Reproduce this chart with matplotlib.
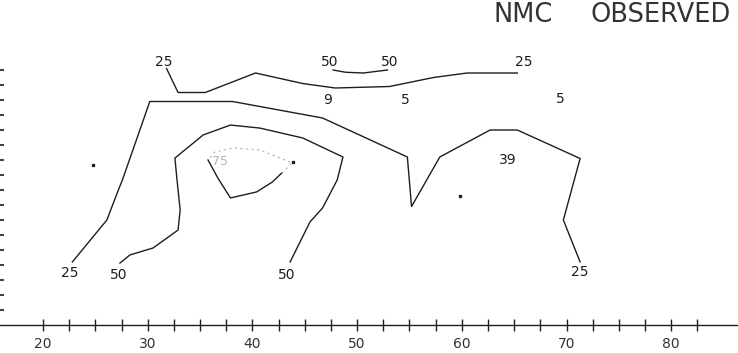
import matplotlib
matplotlib.use("Agg")
import matplotlib.pyplot as plt
import numpy as np

# ---- data (longitude on x, generic units on y) ----
x_ticks_major = [20, 30, 40, 50, 60, 70, 80]
x_ticks_minor = list(np.arange(20, 85, 2.5))
y_ticks_left = list(range(1, 18))

# upper 25 contour
c25a_x = [31.8, 32.9, 35.5, 40.3, 44.8, 47.9, 53.1, 57.3, 60.5, 65.3]
c25a_y = [17.1, 15.5, 15.5, 16.8, 16.1, 15.8, 15.9, 16.5, 16.8, 16.8]
# lower 25 contour
c25b_x = [22.8, 26.1, 27.2, 27.6, 30.2, 38.1, 46.7, 54.8, 55.2, 57.9, 62.7, 65.3, 71.3, 69.7, 71.3]
c25b_y = [4.2, 7.0, 9.0, 9.7, 14.9, 14.9, 13.8, 11.2, 7.9, 11.2, 13.0, 13.0, 11.1, 7.0, 4.2]
# 50 contour
c50_x = [27.35, 28.3, 30.5, 32.9, 33.1, 32.8, 32.6, 35.3, 37.9, 40.7, 44.8, 48.65, 48.1, 46.7, 45.5, 43.6]
c50_y = [4.13, 4.67, 5.13, 6.33, 7.67, 9.67, 11.13, 12.67, 13.33, 13.13, 12.47, 11.2, 9.67, 7.8, 6.87, 4.2]
# small 50 arc at the top
c50b_x = [47.7, 48.9, 50.6, 52.9]
c50b_y = [17.0, 16.85, 16.8, 17.0]
# inner contour (solid lower part, faint upper part)
cin_x = [35.76, 36.7, 37.9, 40.4, 41.9, 42.8]
cin_y = [11.0, 9.8, 8.47, 8.87, 9.53, 10.13]
cin_f_x = [42.8, 43.8, 40.7, 38.15, 36.4, 35.76]
cin_f_y = [10.13, 10.8, 11.67, 11.8, 11.53, 11.0]

# contour labels
lab_text = ["25", "25", "50", "50", "25", "50", "50", "25", "9", "5", "5", "39"]
lab_x = [31.5, 65.9, 47.4, 53.1, 22.6, 27.2, 43.3, 71.3, 47.2, 54.6, 69.4, 64.4]
lab_y = [17.55, 17.55, 17.55, 17.55, 3.45, 3.35, 3.35, 3.5, 15.0, 15.0, 15.07, 11.0]

# isolated dots
dot_x = [24.8, 43.9, 59.8]
dot_y = [10.67, 10.87, 8.6]

ink = "#1e1e1e"

fig = plt.figure(figsize=(7.38, 3.53), dpi=100)
ax = fig.add_axes([0, 0, 1, 1])
ax.set_xlim(15.893, 86.38)
ax.set_ylim(-1.867, 21.667)

lw = 1.0
ax.plot(c25a_x, c25a_y, color=ink, lw=lw)
ax.plot(c25b_x, c25b_y, color=ink, lw=lw)
ax.plot(c50_x, c50_y, color=ink, lw=lw)
ax.plot(c50b_x, c50b_y, color=ink, lw=lw)
ax.plot(cin_x, cin_y, color=ink, lw=lw)
ax.plot(cin_f_x, cin_f_y, color="#b0b0b0", lw=0.8, ls=(0, (2, 3)))
ax.text(36.9, 10.87, "75", color="#b5b5b5", fontsize=9, ha="center", va="center")

for t, x, y in zip(lab_text, lab_x, lab_y):
    ax.text(x, y, t, color=ink, fontsize=10, ha="center", va="center")

ax.plot(dot_x, dot_y, ls="none", marker="s", ms=1.8, color=ink)

# axes styling
for s in ["top", "right"]:
    ax.spines[s].set_visible(False)
ax.spines["left"].set_color("none")
ax.spines["bottom"].set_position(("data", 0))
ax.spines["bottom"].set_color(ink)
ax.spines["bottom"].set_linewidth(1.0)

ax.set_xticks(x_ticks_major)
ax.set_xticklabels([str(v) for v in x_ticks_major])
ax.set_xticks(x_ticks_minor, minor=True)
ax.tick_params(axis="x", which="both", direction="inout", length=9, width=1.0,
               color=ink, pad=4, labelsize=10, labelcolor="#333333")

ax.set_yticks(y_ticks_left)
ax.set_yticklabels([])
ax.tick_params(axis="y", which="both", direction="in", length=3, width=1.5,
               color="#444444")

fig.text(493 / 738, 1 - 15 / 353, "NMC", fontsize=18.5, color="#333333",
         ha="left", va="center")
fig.text(590 / 738, 1 - 15 / 353, "OBSERVED", fontsize=18.5, color="#333333",
         ha="left", va="center")

fig.savefig("out.png", dpi=100)
